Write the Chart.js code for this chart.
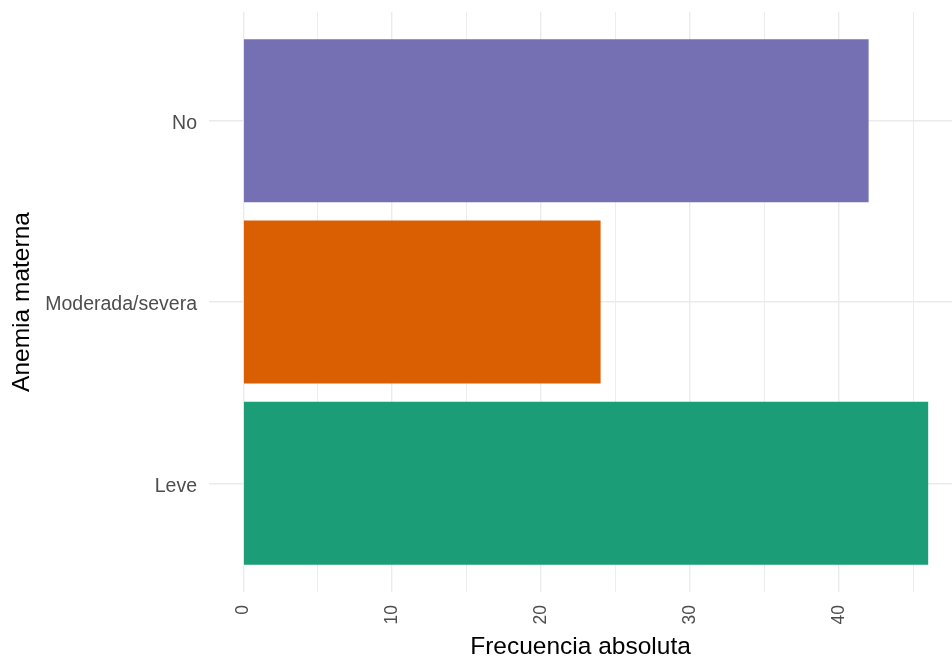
<!DOCTYPE html>
<html>
<head>
<meta charset="utf-8">
<script src="https://cdn.jsdelivr.net/npm/chart.js@4/dist/chart.umd.min.js"></script>
<style>
  html, body { margin: 0; padding: 0; background: #ffffff; }
  #wrap { width: 952px; height: 659px; position: relative; }
</style>
</head>
<body>
<div id="wrap"><canvas id="c" width="952" height="659"></canvas></div>
<script>
// Categories bottom-to-top (as in the reference: Leve bottom, No top)
const categories = ['Leve', 'Moderada/severa', 'No'];
const counts = [46, 24, 42];
const barColors = ['#1B9E77', '#D95F02', '#7570B3'];
const xTicks = [0, 5, 10, 15, 20, 25, 30, 35, 40, 45];
const xTitle = 'Frecuencia absoluta';
const yTitle = 'Anemia materna';

const points = categories.map((c, i) => ({ y: i + 1, x: counts[i] }));

const FONT = "'Liberation Sans', Arial, sans-serif";

new Chart(document.getElementById('c'), {
  type: 'bar',
  data: {
    datasets: [{
      data: points,
      backgroundColor: barColors,
      borderWidth: 0,
      barPercentage: 0.9,
      categoryPercentage: 1.0
    }]
  },
  options: {
    indexAxis: 'y',
    responsive: false,
    animation: false,
    devicePixelRatio: 1,
    layout: { padding: { top: 12, right: 0, bottom: 0, left: 0 } },
    plugins: { legend: { display: false }, tooltip: { enabled: false } },
    scales: {
      x: {
        type: 'linear',
        min: -2.3,
        max: 47.6,
        offset: false,
        afterBuildTicks: s => { s.ticks = xTicks.map(v => ({ value: v })); },
        afterFit: s => { s.height = 67; s.paddingLeft = 0; s.paddingRight = 0; },
        border: { display: false },
        grid: {
          offset: false,
          color: '#EBEBEB',
          lineWidth: ctx => (ctx.tick && ctx.tick.value % 10 === 0) ? 1.4 : 0.9,
          drawTicks: false
        },
        ticks: {
          autoSkip: false,
          maxRotation: 90,
          minRotation: 90,
          padding: 13,
          color: '#4D4D4D',
          font: { family: FONT, size: 17.5 },
          callback: v => (v % 10 === 0 ? String(v) : '')
        },
        title: {
          display: true,
          text: xTitle,
          color: '#000000',
          font: { family: FONT, size: 24.5, lineHeight: 1 },
          padding: { top: 0, bottom: 0 }
        }
      },
      y: {
        type: 'linear',
        min: 0.4,
        max: 3.6,
        offset: false,
        afterBuildTicks: s => { s.ticks = categories.map((c, i) => ({ value: i + 1 })); },
        afterFit: s => { s.width = 209; s.paddingTop = 0; s.paddingBottom = 0; },
        border: { display: false },
        grid: { offset: false, color: '#EBEBEB', lineWidth: 1.4, drawTicks: false },
        ticks: {
          padding: 12,
          labelOffset: 3,
          color: '#4D4D4D',
          font: { family: FONT, size: 19.5 },
          callback: v => categories[Math.round(v) - 1] || ''
        },
        title: {
          display: true,
          text: yTitle,
          color: '#000000',
          font: { family: FONT, size: 24.5, lineHeight: 1 },
          padding: { top: 10, bottom: 0 }
        }
      }
    }
  }
});
</script>
</body>
</html>
